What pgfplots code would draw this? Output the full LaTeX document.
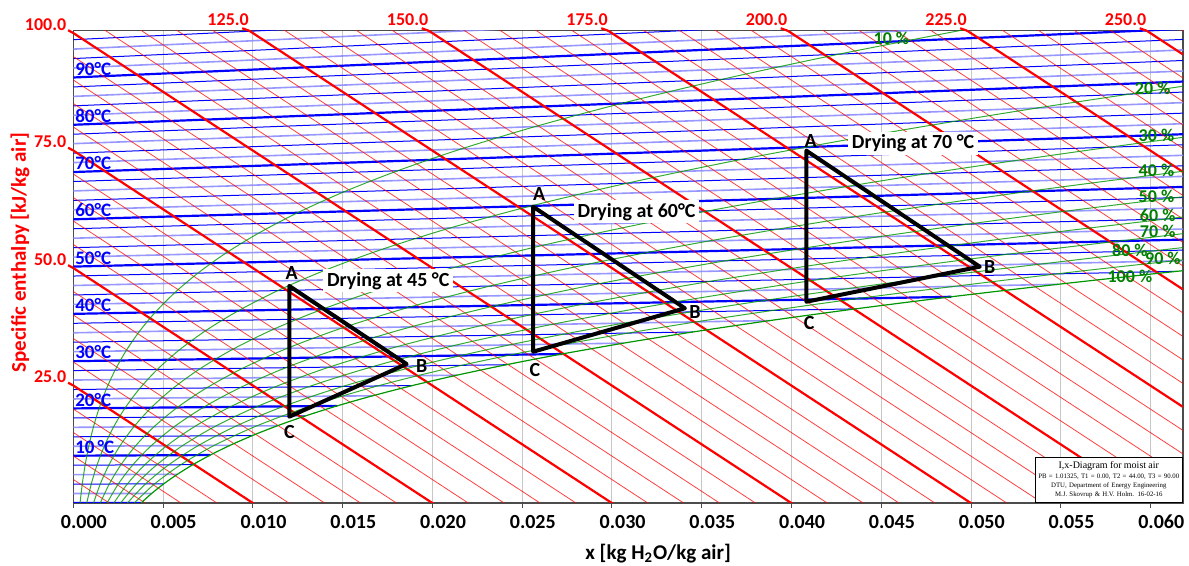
\documentclass[border=0pt]{standalone}
\usepackage{pgfplots}
\pgfplotsset{compat=1.18}
\usepackage{fontspec}
\setmainfont{Carlito}
\newfontfamily\serifbox{Liberation Serif}
\definecolor{mred}{RGB}{255,0,0}
\definecolor{mblue}{RGB}{0,0,255}
\definecolor{lblue}{RGB}{140,140,255}
\definecolor{mgreen}{RGB}{0,150,0}
\definecolor{tgreen}{RGB}{0,128,0}
\begin{document}
\begin{tikzpicture}
\begin{axis}[
  at={(0,0)}, anchor=south west, scale only axis,
  width=554.85pt, height=236.15pt,
  xmin=0, xmax=0.0618, ymin=0, ymax=100.5,
  clip mode=individual,
  axis line style={black!70, line width=0.6pt},
  scaled x ticks=false,
  xtick={0,0.005,0.01,0.015,0.02,0.025,0.03,0.035,0.04,0.045,0.05,0.055,0.06},
  xticklabels={0.000,0.005,0.010,0.015,0.020,0.025,0.030,0.035,0.040,0.045,0.050,0.055,0.060},
  ytick=\empty,
  tick pos=left, tick align=outside, major tick length=2.5pt,
  tick style={black!70, line width=0.5pt},
  xticklabel style={font=\bfseries\fontsize{10}{12}\selectfont, xshift=5.3pt},
  xmajorgrids, grid style={black!22, line width=0.5pt},
  xlabel={x [kg H\textsubscript{2}O/kg air]},
  xlabel style={font=\bfseries\fontsize{10.5}{12}\selectfont, at={(axis description cs:0.527,-0.107)}, anchor=center},
  ylabel={Specific enthalpy [kJ/kg air]},
  ylabel style={font=\bfseries\fontsize{10.5}{12}\selectfont, text=mred, at={(axis description cs:-0.048,0.530)}, anchor=center},
  unbounded coords=jump,
]
% ---------- isotherms (light) ----------
\addplot[lblue, line width=0.8pt, opacity=0.9] coordinates {
(0,2.012)(0.004364,2.028) (nan,nan)
(0,6.036)(0.005795,6.101) (nan,nan)
(0,12.072)(0.008732,12.267) (nan,nan)
(0,16.096)(0.011368,16.434) (nan,nan)
(0,22.132)(0.016673,22.814) (nan,nan)
(0,26.156)(0.021358,27.189) (nan,nan)
(0,32.192)(0.030655,34.017) (nan,nan)
(0,36.216)(0.038789,38.813) (nan,nan)
(0,42.252)(0.054839,46.536) (nan,nan)
(0,46.276)(0.0618,51.564) (nan,nan)
(0,52.312)(0.0618,58.289) (nan,nan)
(0,56.336)(0.0618,62.773) (nan,nan)
(0,62.372)(0.0618,69.499) (nan,nan)
(0,66.396)(0.0618,73.983) (nan,nan)
(0,72.432)(0.0618,80.708) (nan,nan)
(0,76.456)(0.0618,85.192) (nan,nan)
(0,82.492)(0.0618,91.918) (nan,nan)
(0,86.516)(0.0618,96.402) (nan,nan)
(0,92.552)(0.0618,103.13) (nan,nan)
(0,96.576)(0.0618,107.61)
};
% ---------- isotherms (dark thin) ----------
\addplot[mblue, line width=0.5pt] coordinates {
(0,4.024)(0.005034,4.061) (nan,nan)
(0,8.048)(0.006657,8.147) (nan,nan)
(0,14.084)(0.009973,14.344) (nan,nan)
(0,18.108)(0.012938,18.541) (nan,nan)
(0,24.144)(0.018884,24.987) (nan,nan)
(0,28.168)(0.024122,29.424) (nan,nan)
(0,34.204)(0.034499,36.386) (nan,nan)
(0,38.228)(0.043571,41.308) (nan,nan)
(0,44.264)(0.061462,49.294) (nan,nan)
(0,48.288)(0.0618,53.806) (nan,nan)
(0,54.324)(0.0618,60.531) (nan,nan)
(0,58.348)(0.0618,65.015) (nan,nan)
(0,64.384)(0.0618,71.741) (nan,nan)
(0,68.408)(0.0618,76.225) (nan,nan)
(0,74.444)(0.0618,82.950) (nan,nan)
(0,78.468)(0.0618,87.434) (nan,nan)
(0,84.504)(0.0618,94.160) (nan,nan)
(0,88.528)(0.0618,98.644) (nan,nan)
(0,94.564)(0.0618,105.37) (nan,nan)
(0,98.588)(0.0618,109.85)
};
% ---------- isotherms (thick, every 10 C) ----------
\addplot[mblue, line width=1.1pt] coordinates {
(0,0)(0.003775,0) (nan,nan)
(0,10.06)(0.007632,10.202) (nan,nan)
(0,20.12)(0.014699,20.667) (nan,nan)
(0,30.18)(0.027209,31.698) (nan,nan)
(0,40.24)(0.048898,43.878) (nan,nan)
(0,50.3)(0.0618,56.048) (nan,nan)
(0,60.36)(0.0618,67.257) (nan,nan)
(0,70.42)(0.0618,78.467) (nan,nan)
(0,80.48)(0.0618,89.676) (nan,nan)
(0,90.54)(0.0618,100.886)
};
% ---------- enthalpy lines (thin, every 5 kJ/kg) ----------
\addplot[mred, line width=0.4pt, opacity=0.75] coordinates {
(0,5)(0.0618,-149.56) (nan,nan)
(0,10)(0.0618,-144.56) (nan,nan)
(0,15)(0.0618,-139.56) (nan,nan)
(0,20)(0.0618,-134.56) (nan,nan)
(0,30)(0.0618,-124.56) (nan,nan)
(0,35)(0.0618,-119.56) (nan,nan)
(0,40)(0.0618,-114.56) (nan,nan)
(0,45)(0.0618,-109.56) (nan,nan)
(0,55)(0.0618,-99.56) (nan,nan)
(0,60)(0.0618,-94.56) (nan,nan)
(0,65)(0.0618,-89.56) (nan,nan)
(0,70)(0.0618,-84.56) (nan,nan)
(0,80)(0.0618,-74.56) (nan,nan)
(0,85)(0.0618,-69.56) (nan,nan)
(0,90)(0.0618,-64.56) (nan,nan)
(0,95)(0.0618,-59.56) (nan,nan)
(0,105)(0.0618,-49.56) (nan,nan)
(0,110)(0.0618,-44.56) (nan,nan)
(0,115)(0.0618,-39.56) (nan,nan)
(0,120)(0.0618,-34.56) (nan,nan)
(0,130)(0.0618,-24.56) (nan,nan)
(0,135)(0.0618,-19.56) (nan,nan)
(0,140)(0.0618,-14.56) (nan,nan)
(0,145)(0.0618,-9.56) (nan,nan)
(0,155)(0.0618,0.44) (nan,nan)
(0,160)(0.0618,5.44) (nan,nan)
(0,165)(0.0618,10.44) (nan,nan)
(0,170)(0.0618,15.44) (nan,nan)
(0,180)(0.0618,25.44) (nan,nan)
(0,185)(0.0618,30.44) (nan,nan)
(0,190)(0.0618,35.44) (nan,nan)
(0,195)(0.0618,40.44) (nan,nan)
(0,205)(0.0618,50.44) (nan,nan)
(0,210)(0.0618,55.44) (nan,nan)
(0,215)(0.0618,60.44) (nan,nan)
(0,220)(0.0618,65.44) (nan,nan)
(0,230)(0.0618,75.44) (nan,nan)
(0,235)(0.0618,80.44) (nan,nan)
(0,240)(0.0618,85.44) (nan,nan)
(0,245)(0.0618,90.44) (nan,nan)
(0,255)(0.0618,100.44)
};
% ---------- enthalpy lines (thick, every 25 kJ/kg) ----------
\addplot[mred, line width=1.1pt] coordinates {
(0,25)(0.0618,-129.56) (nan,nan)
(0,50)(0.0618,-104.56) (nan,nan)
(0,75)(0.0618,-79.56) (nan,nan)
(0,100)(0.0618,-54.56) (nan,nan)
(0,125)(0.0618,-29.56) (nan,nan)
(0,150)(0.0618,-4.56) (nan,nan)
(0,175)(0.0618,20.44) (nan,nan)
(0,200)(0.0618,45.44) (nan,nan)
(0,225)(0.0618,70.44) (nan,nan)
(0,250)(0.0618,95.44)
};
% ---------- relative humidity curves ----------
\addplot[mgreen, line width=0.5pt, opacity=0.8, smooth] coordinates {
(0.000375,0) (0.000500,4.028) (0.000659,8.058) (0.000862,12.091) (0.001119,16.129) (0.001439,20.174) (0.001838,24.226) (0.002331,28.289) (0.002935,32.367) (0.003673,36.462) (0.004567,40.580) (0.005644,44.726) (0.006938,48.907) (0.008482,53.132) (0.010317,57.411) (0.012490,61.754) (0.015053,66.176) (0.018066,70.693) (0.021596,75.324) (0.025723,80.092) (0.030535,85.024) (0.036137,90.150) (0.042649,95.509) (0.050213,101.14)};
\addplot[mgreen, line width=0.5pt, opacity=0.8, smooth] coordinates {
(0.000751,0) (0.001000,4.031) (0.001320,8.068) (0.001727,12.111) (0.002241,16.163) (0.002885,20.227) (0.003687,24.309) (0.004679,28.412) (0.005898,32.543) (0.007389,36.711) (0.009201,40.925) (0.011392,45.196) (0.014032,49.541) (0.017198,53.975) (0.020983,58.522) (0.025492,63.205) (0.030854,68.057) (0.037213,73.115) (0.044746,78.424) (0.053665,84.042) (0.064222,90.036)};
\addplot[mgreen, line width=0.5pt, opacity=0.8, smooth] coordinates {
(0.001128,0) (0.001502,4.035) (0.001982,8.078) (0.002594,12.130) (0.003368,16.196) (0.004338,20.281) (0.005547,24.392) (0.007045,28.535) (0.008890,32.721) (0.011150,36.963) (0.013904,41.274) (0.017245,45.675) (0.021288,50.189) (0.026159,54.842) (0.032014,59.671) (0.039038,64.717) (0.047458,70.033) (0.057540,75.617) (0.069623,81.756)};
\addplot[mgreen, line width=0.5pt, opacity=0.8, smooth] coordinates {
(0.001504,0) (0.002004,4.039) (0.002646,8.087) (0.003464,12.149) (0.004498,16.230) (0.005797,20.336) (0.007418,24.475) (0.009429,28.659) (0.011910,32.901) (0.014956,37.217) (0.018678,41.630) (0.023209,46.163) (0.028712,50.851) (0.035374,55.733) (0.043431,60.860) (0.053163,66.293) (0.064928,72.113)};
\addplot[mgreen, line width=0.5pt, opacity=0.8, smooth] coordinates {
(0.001882,0) (0.002507,4.043) (0.003311,8.097) (0.004336,12.169) (0.005633,16.264) (0.007264,20.390) (0.009301,24.559) (0.011832,28.784) (0.014959,33.082) (0.018808,37.475) (0.023524,41.990) (0.029284,46.661) (0.036309,51.530) (0.044855,56.651) (0.055253,62.091) (0.067905,67.938)};
\addplot[mgreen, line width=0.5pt, opacity=0.8, smooth] coordinates {
(0.002259,0) (0.003011,4.046) (0.003977,8.107) (0.005210,12.188) (0.006772,16.298) (0.008737,20.445) (0.011194,24.644) (0.014252,28.910) (0.018037,33.266) (0.022707,37.736) (0.028445,42.356) (0.035475,47.167) (0.044085,52.224) (0.054614,57.594) (0.067503,63.367)};
\addplot[mgreen, line width=0.5pt, opacity=0.8, smooth] coordinates {
(0.002638,0) (0.003515,4.050) (0.004645,8.117) (0.006087,12.208) (0.007915,16.332) (0.010217,20.500) (0.013100,24.729) (0.016691,29.037) (0.021146,33.451) (0.026654,38.001) (0.033440,42.728) (0.041784,47.684) (0.052047,52.935) (0.064662,58.566)};
\addplot[mgreen, line width=0.5pt, opacity=0.8, smooth] coordinates {
(0.003016,0) (0.004021,4.054) (0.005314,8.127) (0.006966,12.227) (0.009062,16.366) (0.011704,20.555) (0.015016,24.814) (0.019149,29.165) (0.024285,33.637) (0.030649,38.268) (0.038513,43.105) (0.048216,48.210) (0.060202,53.663) (0.067215,56.551)};
\addplot[mgreen, line width=0.5pt, opacity=0.8, smooth] coordinates {
(0.003395,0) (0.004527,4.058) (0.005985,8.137) (0.007848,12.247) (0.010213,16.400) (0.013198,20.611) (0.016944,24.900) (0.021626,29.294) (0.027454,33.826) (0.034694,38.539) (0.043666,43.489) (0.054774,48.747) (0.061293,51.520) (0.068556,54.409)};
\addplot[mgreen, line width=0.6pt, smooth] coordinates {
(0.003775,0) (0.004364,2.028) (0.005034,4.061) (0.005795,6.101) (0.006657,8.147) (0.007632,10.202) (0.008732,12.267) (0.009973,14.344) (0.011368,16.434) (0.012938,18.541) (0.014699,20.667) (0.016673,22.814) (0.018884,24.987) (0.021358,27.189) (0.024122,29.424) (0.027209,31.698) (0.030655,34.017) (0.034499,36.386) (0.038789,38.813) (0.043571,41.308) (0.048898,43.878) (0.054839,46.536) (0.061462,49.294) (0.068857,52.167)};
% ---------- drying triangles ----------
\addplot[black, line width=2pt, line join=round, line cap=round] coordinates {(0.01203,46.17) (0.01856,29.57) (0.01203,18.36) (0.01203,46.17)};
\addplot[black, line width=2pt, line join=round, line cap=round] coordinates {(0.02561,63.04) (0.03406,41.43) (0.02561,32.19) (0.02561,63.04)};
\addplot[black, line width=2pt, line join=round, line cap=round] coordinates {(0.04083,74.96) (0.05048,50.28) (0.04083,42.83) (0.04083,74.96)};
% ---------- temperature labels ----------
\begin{scope}[every node/.style={anchor=base west, text=mblue, inner sep=0pt, font=\bfseries\fontsize{9.5}{11}\selectfont, xshift=0.8pt, yshift=1.2pt}]
\node at (axis cs:0,10.06) {10\,°C};
\node at (axis cs:0,20.12) {20°C};
\node at (axis cs:0,30.18) {30°C};
\node at (axis cs:0,40.24) {40°C};
\node at (axis cs:0,50.3) {50°C};
\node at (axis cs:0,60.36) {60°C};
\node at (axis cs:0,70.42) {70°C};
\node at (axis cs:0,80.48) {80°C};
\node at (axis cs:0,90.54) {90°C};
\end{scope}
% ---------- relative humidity labels ----------
\begin{scope}[every node/.style={text=tgreen, inner sep=0pt, font=\bfseries\fontsize{9}{11}\selectfont}]
\node at (axis cs:0.04556,98.94) {10 \%};
\node at (axis cs:0.06011,88.30) {20 \%};
\node at (axis cs:0.06032,78.30) {30 \%};
\node at (axis cs:0.06032,70.85) {40 \%};
\node at (axis cs:0.06032,65.28) {50 \%};
\node at (axis cs:0.06039,61.28) {60 \%};
\node at (axis cs:0.06039,57.73) {70 \%};
\node at (axis cs:0.05884,53.83) {80 \%};
\node at (axis cs:0.06068,52.13) {90 \%};
\node at (axis cs:0.05884,48.30) {100 \%};
\end{scope}
% ---------- triangle labels ----------
\begin{scope}[every node/.style={inner sep=0pt, font=\bfseries\fontsize{10}{12}\selectfont}]
\node at (axis cs:0.01216,48.87) {A};
\node at (axis cs:0.01940,29.21) {B};
\node at (axis cs:0.01203,15.17) {C};
\node at (axis cs:0.02595,65.74) {A};
\node at (axis cs:0.03462,40.70) {B};
\node at (axis cs:0.02571,28.30) {C};
\node at (axis cs:0.04106,77.09) {A};
\node at (axis cs:0.05104,50.28) {B};
\node at (axis cs:0.04098,38.36) {C};
\end{scope}
\begin{scope}[every node/.style={fill=white, inner xsep=2pt, inner ysep=1.5pt, font=\bfseries\fontsize{10}{12}\selectfont}]
\node at (axis cs:0.01754,47.30) {Drying at 45 °C};
\node at (axis cs:0.03137,61.98) {Drying at 60°C};
\node at (axis cs:0.04677,76.53) {Drying at 70 °C};
\end{scope}
% ---------- enthalpy scale labels ----------
\begin{scope}[every node/.style={anchor=base east, text=mred, inner sep=0pt, font=\bfseries\fontsize{9}{11}\selectfont}]
\node[xshift=-3.3pt, yshift=1.3pt] at (axis cs:0,25) {25.0};
\node[xshift=-3.3pt, yshift=1.3pt] at (axis cs:0,50) {50.0};
\node[xshift=-3.3pt, yshift=1.3pt] at (axis cs:0,75) {75.0};
\node[xshift=-3.3pt, yshift=1.3pt] at (axis cs:0,100) {100.0};
\node[yshift=2.6pt] at (axis cs:0.009796,100.5) {125.0};
\node[yshift=2.6pt] at (axis cs:0.019792,100.5) {150.0};
\node[yshift=2.6pt] at (axis cs:0.029788,100.5) {175.0};
\node[yshift=2.6pt] at (axis cs:0.039784,100.5) {200.0};
\node[yshift=2.6pt] at (axis cs:0.049780,100.5) {225.0};
\node[yshift=2.6pt] at (axis cs:0.059776,100.5) {250.0};
\end{scope}
\begin{scope}[mred, line width=1.1pt]
\draw (axis cs:0,25) -- ++(-2.6pt,1.4pt);
\draw (axis cs:0,50) -- ++(-2.6pt,1.4pt);
\draw (axis cs:0,75) -- ++(-2.6pt,1.4pt);
\draw (axis cs:0,100) -- ++(-2.6pt,1.4pt);
\draw (axis cs:0.009796,100.5) -- ++(-3.5pt,1.2pt);
\draw (axis cs:0.019792,100.5) -- ++(-3.5pt,1.2pt);
\draw (axis cs:0.029788,100.5) -- ++(-3.5pt,1.2pt);
\draw (axis cs:0.039784,100.5) -- ++(-3.5pt,1.2pt);
\draw (axis cs:0.049780,100.5) -- ++(-3.5pt,1.2pt);
\draw (axis cs:0.059776,100.5) -- ++(-3.5pt,1.2pt);
\end{scope}
% ---------- info box ----------
\node[draw=black, line width=0.7pt, fill=white, anchor=south east, inner xsep=1.5pt, inner ysep=2.2pt,
      align=center, text width=70.5pt, font=\serifbox\fontsize{3.4}{4.4}\selectfont]
  at (rel axis cs:1,0)
  {{\fontsize{5}{4.4}\selectfont I,x-Diagram for moist air}\\[0.6pt]
   PB = 1.01325, T1 = 0.00, T2 = 44.00, T3 = 90.00\\
   DTU, Department of Energy Engineering\\
   M.J. Skovrup \& H.V. Holm. 16-02-16};
\end{axis}
\pgfresetboundingbox
\path (-36.65pt,-31.5pt) rectangle (557.85pt,251.5pt);
\end{tikzpicture}
\end{document}
